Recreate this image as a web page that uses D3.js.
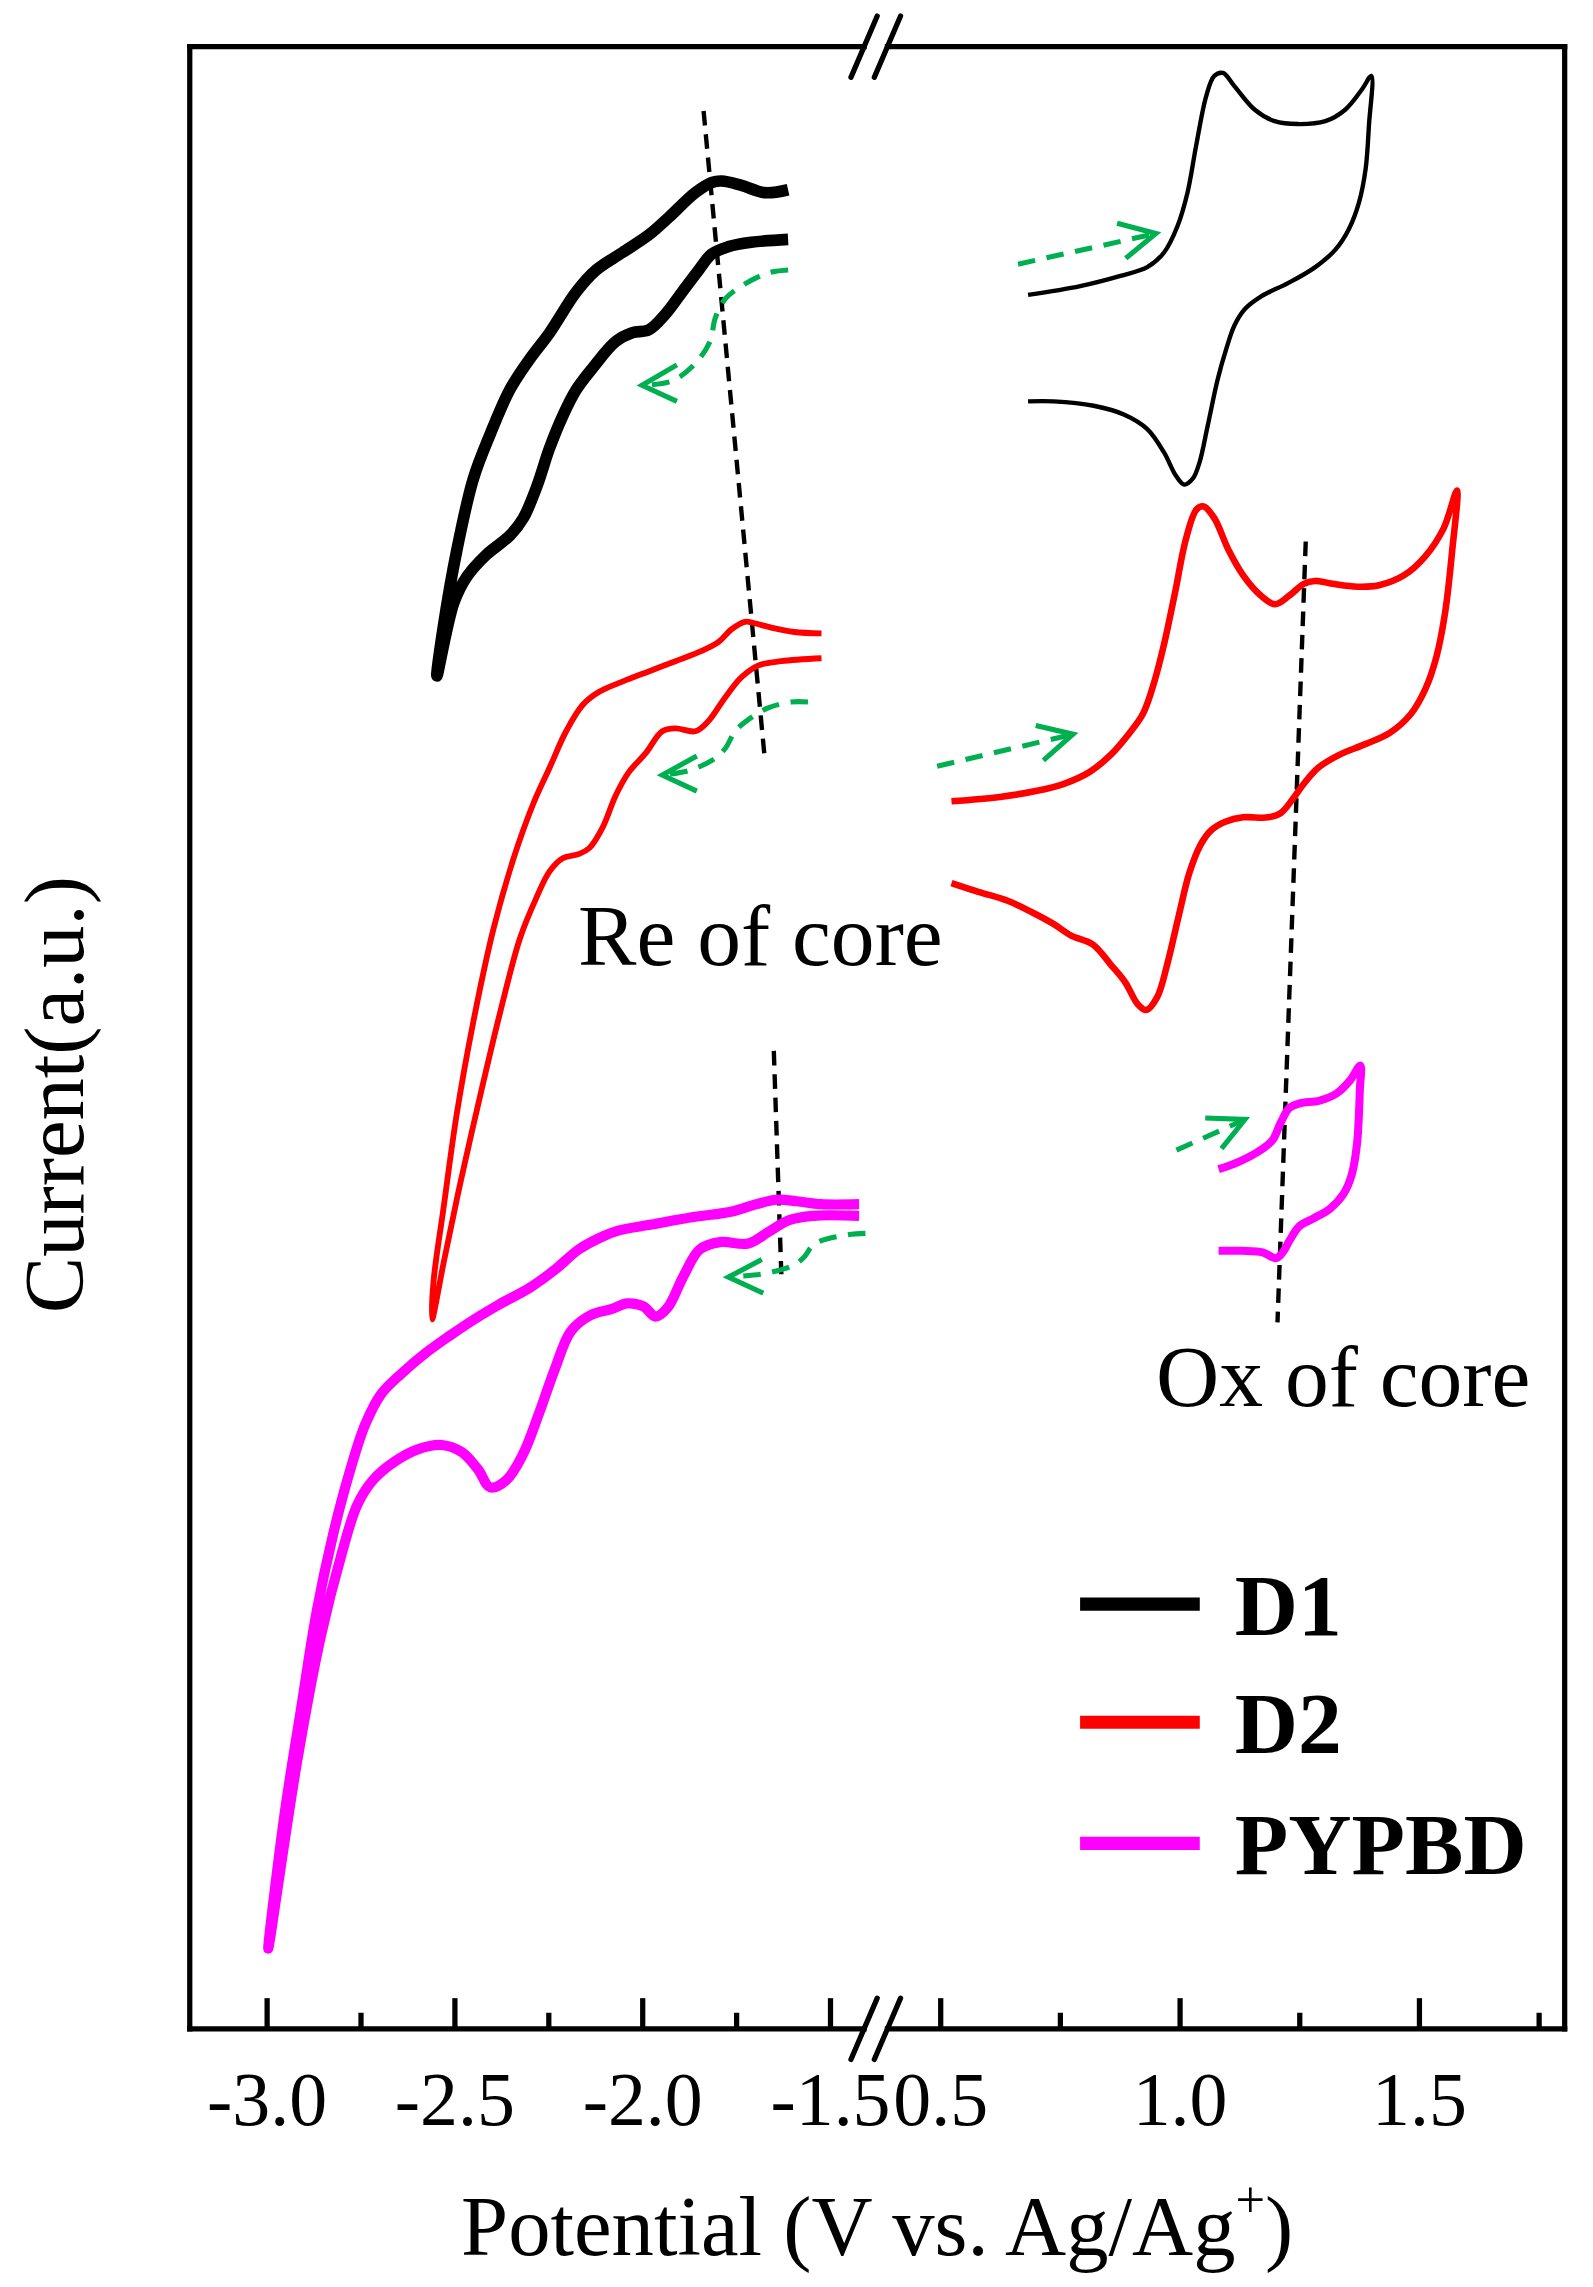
<!DOCTYPE html>
<html>
<head>
<meta charset="utf-8">
<script src="https://cdn.jsdelivr.net/npm/d3@7"></script>
<style>
  body { margin: 0; background: #fff; }
  svg { display: block; }
</style>
</head>
<body>
<div id="chart"></div>
<script>
// potential in V vs Ag/Ag+, current in arbitrary units (curves are offset, no y ticks)
const leftMajor = [-3.0, -2.5, -2.0, -1.5];
const leftMinor = [-2.75, -2.25, -1.75];
const rightMajor = [0.5, 1.0, 1.5];
const rightMinor = [0.75, 1.25, 1.75];

const seriesNames = ["D1", "D2", "PYPBD"];
const seriesColors = ["#000000", "#ff0000", "#ff00ff"];

// reduction scans (left panel), scan order: cathodic branch then return branch
const d1Re = [[-1.611,12.26],[-1.709,12.24],[-1.770,12.21],[-1.814,12.16],[-1.849,12.05],[-1.893,11.90],[-1.937,11.75],[-1.982,11.64],[-2.026,11.62],[-2.070,11.56],[-2.131,11.38],[-2.175,11.23],[-2.211,11.05],[-2.246,10.83],[-2.281,10.56],[-2.316,10.35],[-2.352,10.23],[-2.414,10.10],[-2.466,9.95],[-2.501,9.77],[-2.546,9.27],
  [-2.528,9.62],[-2.493,10.13],[-2.449,10.62],[-2.405,10.92],[-2.352,11.23],[-2.299,11.44],[-2.246,11.62],[-2.175,11.90],[-2.122,12.05],[-2.052,12.17],[-1.982,12.29],[-1.929,12.41],[-1.858,12.58],[-1.814,12.65],[-1.788,12.66],[-1.735,12.63],[-1.673,12.58],[-1.611,12.60]];

const d2Re = [[-1.522,9.39],[-1.629,9.37],[-1.691,9.34],[-1.735,9.26],[-1.779,9.12],[-1.823,8.96],[-1.858,8.89],[-1.911,8.91],[-1.946,8.89],[-1.990,8.74],[-2.035,8.61],[-2.070,8.45],[-2.105,8.23],[-2.140,8.09],[-2.167,8.05],[-2.211,8.02],[-2.246,7.93],[-2.281,7.75],[-2.325,7.47],[-2.378,6.96],[-2.431,6.39],[-2.484,5.79],[-2.528,5.25],[-2.559,4.86],
  [-2.555,5.12],[-2.528,5.63],[-2.493,6.27],[-2.449,6.90],[-2.396,7.53],[-2.343,8.01],[-2.290,8.39],[-2.246,8.64],[-2.202,8.89],[-2.158,9.07],[-2.114,9.16],[-2.052,9.23],[-1.982,9.30],[-1.911,9.37],[-1.841,9.44],[-1.797,9.50],[-1.761,9.59],[-1.726,9.64],[-1.700,9.63],[-1.656,9.60],[-1.594,9.57],[-1.522,9.56]];

const pyRe = [[-1.422,5.57],[-1.545,5.57],[-1.609,5.54],[-1.663,5.46],[-1.717,5.38],[-1.792,5.39],[-1.846,5.34],[-1.889,5.16],[-1.932,4.94],[-1.964,4.88],[-1.996,4.95],[-2.039,4.97],[-2.082,4.93],[-2.136,4.89],[-2.189,4.78],[-2.232,4.52],[-2.275,4.21],[-2.318,3.93],[-2.361,3.76],[-2.404,3.71],[-2.436,3.83],[-2.479,3.95],[-2.533,4.00],[-2.597,3.97],[-2.662,3.88],[-2.716,3.76],[-2.758,3.59],[-2.801,3.24],[-2.855,2.69],[-2.919,1.82],[-2.995,0.55],
  [-2.951,1.48],[-2.909,2.17],[-2.866,2.86],[-2.823,3.38],[-2.780,3.80],[-2.737,4.14],[-2.694,4.35],[-2.640,4.49],[-2.576,4.63],[-2.511,4.75],[-2.447,4.86],[-2.382,4.96],[-2.297,5.08],[-2.232,5.20],[-2.168,5.34],[-2.103,5.43],[-2.061,5.47],[-1.975,5.51],[-1.867,5.56],[-1.760,5.60],[-1.695,5.65],[-1.642,5.68],[-1.588,5.67],[-1.524,5.65],[-1.422,5.65]];

// oxidation scans (right panel), scan order: anodic branch then return branch
const d1Ox = [[0.684,11.88],[0.793,11.94],[0.877,12.01],[0.933,12.07],[0.968,12.17],[0.996,12.35],[1.017,12.58],[1.035,12.90],[1.056,13.24],[1.073,13.38],[1.091,13.40],[1.115,13.31],[1.157,13.15],[1.199,13.07],[1.248,13.05],[1.305,13.07],[1.347,13.15],[1.382,13.29],[1.401,13.38],
  [1.396,13.04],[1.389,12.74],[1.375,12.51],[1.354,12.33],[1.326,12.19],[1.284,12.07],[1.227,11.96],[1.171,11.87],[1.136,11.78],[1.115,11.67],[1.098,11.51],[1.080,11.30],[1.059,10.98],[1.042,10.73],[1.028,10.62],[1.010,10.58],[0.993,10.64],[0.968,10.80],[0.933,10.96],[0.884,11.06],[0.821,11.12],[0.737,11.15],[0.684,11.15]];

const d2Ox = [[0.524,8.41],[0.625,8.44],[0.700,8.48],[0.759,8.53],[0.812,8.61],[0.857,8.73],[0.894,8.87],[0.924,9.01],[0.946,9.21],[0.969,9.50],[0.991,9.84],[1.014,10.21],[1.036,10.41],[1.051,10.43],[1.073,10.35],[1.103,10.13],[1.133,9.96],[1.170,9.82],[1.200,9.76],[1.230,9.82],[1.260,9.90],[1.283,9.92],[1.320,9.90],[1.372,9.88],[1.417,9.89],[1.470,9.96],[1.514,10.09],[1.552,10.28],[1.580,10.54],
  [1.570,10.13],[1.555,9.70],[1.537,9.40],[1.514,9.18],[1.484,9.01],[1.440,8.88],[1.387,8.80],[1.335,8.73],[1.290,8.64],[1.260,8.53],[1.238,8.43],[1.212,8.33],[1.185,8.30],[1.133,8.30],[1.096,8.27],[1.066,8.21],[1.044,8.11],[1.021,7.92],[0.999,7.63],[0.976,7.31],[0.954,7.07],[0.931,6.98],[0.913,7.02],[0.887,7.17],[0.857,7.29],[0.819,7.43],[0.774,7.49],[0.737,7.57],[0.692,7.65],[0.640,7.73],[0.580,7.79],[0.524,7.85]];

const pyOx = [[1.082,5.89],[1.124,5.94],[1.174,6.03],[1.195,6.09],[1.212,6.21],[1.230,6.31],[1.251,6.34],[1.293,6.36],[1.329,6.41],[1.357,6.50],[1.378,6.60],
  [1.377,6.43],[1.371,6.06],[1.360,5.85],[1.343,5.72],[1.315,5.62],[1.279,5.55],[1.251,5.50],[1.230,5.40],[1.216,5.32],[1.202,5.28],[1.174,5.32],[1.131,5.33],[1.082,5.33]];

// green scan-direction arrows: shaft points, head = [arm, tip, arm]
const d1ReShaft = [[-1.611,12.05],[-1.664,12.03],[-1.735,11.94],[-1.779,11.85],[-1.805,11.72],[-1.819,11.56],[-1.858,11.41],[-1.920,11.29],[-2.000,11.26]];
const d1ReHead = [[-1.907,11.40],[-2.000,11.26],[-1.907,11.15]];
const d2ReShaft = [[-1.558,9.09],[-1.603,9.09],[-1.664,9.05],[-1.717,8.97],[-1.752,8.89],[-1.779,8.77],[-1.814,8.69],[-1.876,8.62],[-1.946,8.59]];
const d2ReHead = [[-1.854,8.72],[-1.946,8.59],[-1.854,8.48]];
const pyReShaft = [[-1.405,5.45],[-1.453,5.44],[-1.539,5.38],[-1.571,5.28],[-1.598,5.23],[-1.646,5.19],[-1.684,5.17],[-1.770,5.15]];
const pyReHead = [[-1.681,5.27],[-1.770,5.15],[-1.677,5.04]];
const d1OxShaft = [[0.663,12.09],[0.951,12.30]];
const d1OxHead = [[0.870,12.37],[0.951,12.30],[0.888,12.13]];
const d2OxShaft = [[0.494,8.65],[0.778,8.87]];
const d2OxHead = [[0.700,8.93],[0.778,8.87],[0.716,8.69]];
const pyOxShaft = [[0.994,6.02],[1.137,6.23]];
const pyOxHead = [[1.054,6.24],[1.137,6.23],[1.088,6.03]];

// black dashed guide lines through the peak positions
const guideRe1 = [[-1.836,13.14],[-1.673,8.70]];
const guideRe2 = [[-1.649,6.70],[-1.629,5.17]];
const guideOx = [[1.264,10.19],[1.205,4.84]];

drawChart("#chart");

function drawChart(container) {
  const width = 1091.4;
  const height = 1566.9;
  const left = 130, right = 1072, top = 32, bottom = 1390;
  const breakX = 600;
  const font = "'Liberation Serif', 'Times New Roman', serif";

  const xL = d3.scaleLinear().domain([-3.0, -1.5]).range([182.5, 568.5]);
  const xR = d3.scaleLinear().domain([0.5, 1.5]).range([644, 972]);
  const y = d3.scaleLinear().domain([0, 13.58]).range([bottom, top]);

  const svg = d3.select(container).append("svg")
      .attr("width", 1593)
      .attr("height", 2287)
      .attr("viewBox", [0, 0, width, height]);

  const lineFor = x => d3.line()
      .curve(d3.curveCatmullRom.alpha(0.5))
      .x(d => x(d[0]))
      .y(d => y(d[1]));

  // axes ticks
  const tickFmt = d => d.toFixed(1);
  [[xL, leftMajor, leftMinor], [xR, rightMajor, rightMinor]].forEach(([x, major, minor]) => {
    svg.append("g")
        .attr("transform", `translate(0,${bottom})`)
        .call(d3.axisBottom(x).tickValues(major).tickSize(-21).tickPadding(29).tickFormat(tickFmt))
        .call(g => g.select(".domain").remove())
        .attr("font-family", font)
        .attr("font-size", 52)
        .call(g => g.selectAll(".tick line").attr("stroke-width", 3.6))
        .call(g => g.selectAll(".tick text").attr("fill", "#000"));
    svg.append("g")
        .attr("transform", `translate(0,${bottom})`)
        .call(d3.axisBottom(x).tickValues(minor).tickSize(-11).tickFormat(""))
        .call(g => g.select(".domain").remove())
        .call(g => g.selectAll(".tick line").attr("stroke-width", 3.6));
  });

  // frame with break in top and bottom
  const frame = svg.append("g")
      .attr("stroke", "#000")
      .attr("stroke-width", 3.6)
      .attr("stroke-linecap", "square")
      .attr("fill", "none");
  frame.append("line").attr("x1", left).attr("x2", left).attr("y1", top).attr("y2", bottom);
  frame.append("line").attr("x1", right).attr("x2", right).attr("y1", top).attr("y2", bottom);
  [top, bottom].forEach(yy => {
    frame.append("line").attr("x1", left).attr("x2", breakX - 8).attr("y1", yy).attr("y2", yy);
    frame.append("line").attr("x1", breakX + 8).attr("x2", right).attr("y1", yy).attr("y2", yy);
    [-8, 8].forEach(dx => {
      frame.append("line")
          .attr("stroke-linecap", "round")
          .attr("x1", breakX + dx - 9).attr("y1", yy + 21)
          .attr("x2", breakX + dx + 9).attr("y2", yy - 21);
    });
  });

  // guide lines
  [[guideRe1, xL], [guideRe2, xL], [guideOx, xR]].forEach(([data, x]) => {
    svg.append("path")
        .datum(data)
        .attr("fill", "none")
        .attr("stroke", "#000")
        .attr("stroke-width", 3)
        .attr("stroke-dasharray", "10,6")
        .attr("d", lineFor(x));
  });

  // CV curves
  const curves = [
    { data: d1Re, x: xL, color: seriesColors[0], w: 8 },
    { data: d1Ox, x: xR, color: seriesColors[0], w: 3 },
    { data: d2Re, x: xL, color: seriesColors[1], w: 4 },
    { data: d2Ox, x: xR, color: seriesColors[1], w: 4.5 },
    { data: pyRe, x: xL, color: seriesColors[2], w: 7 },
    { data: pyOx, x: xR, color: seriesColors[2], w: 5.5 }
  ];
  curves.forEach(c => {
    svg.append("path")
        .datum(c.data)
        .attr("fill", "none")
        .attr("stroke", c.color)
        .attr("stroke-width", c.w)
        .attr("stroke-linejoin", "round")
        .attr("d", lineFor(c.x));
  });

  // scan direction arrows
  const green = "#00b050";
  [[d1ReShaft, d1ReHead, xL], [d2ReShaft, d2ReHead, xL], [pyReShaft, pyReHead, xL],
   [d1OxShaft, d1OxHead, xR], [d2OxShaft, d2OxHead, xR], [pyOxShaft, pyOxHead, xR]].forEach(([shaft, head, x]) => {
    svg.append("path")
        .datum(shaft)
        .attr("fill", "none")
        .attr("stroke", green)
        .attr("stroke-width", 3.5)
        .attr("stroke-dasharray", "12,8")
        .attr("d", lineFor(x));
    svg.append("path")
        .datum(head)
        .attr("fill", "none")
        .attr("stroke", green)
        .attr("stroke-width", 3.5)
        .attr("d", d3.line().x(d => x(d[0])).y(d => y(d[1])));
  });

  // annotations
  svg.append("text")
      .attr("x", 396).attr("y", 661)
      .attr("font-family", font).attr("font-size", 60)
      .text("Re of core");
  svg.append("text")
      .attr("x", 792).attr("y", 963)
      .attr("font-family", font).attr("font-size", 60)
      .text("Ox of core");

  // legend
  const legend = svg.append("g");
  const baselines = [1120, 1201, 1284];
  seriesNames.forEach((name, i) => {
    legend.append("line")
        .attr("x1", 740).attr("x2", 822)
        .attr("y1", baselines[i] - 21).attr("y2", baselines[i] - 21)
        .attr("stroke", seriesColors[i])
        .attr("stroke-width", 9);
    legend.append("text")
        .attr("x", 846).attr("y", baselines[i])
        .attr("font-family", font).attr("font-size", 60).attr("font-weight", "bold")
        .text(name);
  });

  // axis titles
  const xt = svg.append("text")
      .attr("x", 601).attr("y", 1545)
      .attr("text-anchor", "middle")
      .attr("font-family", font).attr("font-size", 58);
  xt.append("tspan").text("Potential (V vs. Ag/Ag");
  xt.append("tspan").attr("font-size", 36).attr("dy", -26).text("+");
  xt.append("tspan").attr("dy", 26).text(")");

  svg.append("text")
      .attr("transform", `translate(57,750) rotate(-90)`)
      .attr("text-anchor", "middle")
      .attr("font-family", font).attr("font-size", 58)
      .text("Current(a.u.)");
}
</script>
</body>
</html>
